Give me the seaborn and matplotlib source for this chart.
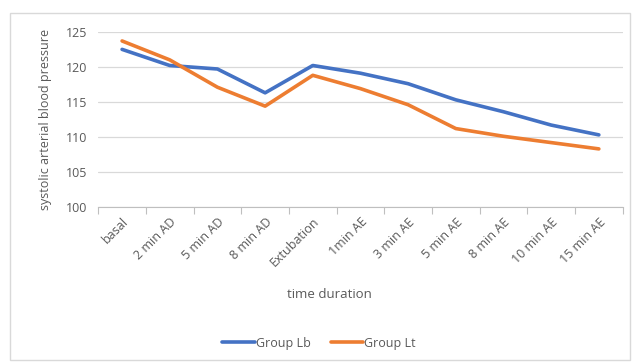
import pandas as pd
import seaborn as sns
import matplotlib.pyplot as plt
from matplotlib.patches import Rectangle

# data
times = ['basal', '2 min AD', '5 min AD', '8 min AD', 'Extubation', '1min AE',
         '3 min AE', '5 min AE', '8 min AE', '10 min AE', '15 min AE']
group_lb = [122.5, 120.2, 119.7, 116.3, 120.2, 119.1, 117.6, 115.3, 113.6, 111.7, 110.3]
group_lt = [123.7, 121.0, 117.1, 114.4, 118.8, 116.9, 114.6, 111.2, 110.1, 109.2, 108.3]
groups = ['Group Lb', 'Group Lt']
colors = ['#4472C4', '#ED7D31']

df = pd.DataFrame({
    'time': times * 2,
    'sbp': group_lb + group_lt,
    'group': [groups[0]] * len(times) + [groups[1]] * len(times),
})

sns.set_style('white')
plt.rcParams['font.family'] = ['Open Sans', 'DejaVu Sans']
txt = '#595959'

fig = plt.figure(figsize=(6.38, 3.62), dpi=100)
ax = fig.add_axes([0.154, 0.428, 0.822, 0.484])
fig.patches.append(Rectangle((0.016, 0.005), 0.972, 0.958, transform=fig.transFigure,
                             fill=False, edgecolor='#d9d9d9', linewidth=1))

x = list(range(len(times)))
df['x'] = df['time'].map(dict(zip(times, x)))
sns.lineplot(data=df, x='x', y='sbp', hue='group', palette=colors, linewidth=2.6,
             sort=False, ax=ax)

ax.set_xlim(-0.5, len(times) - 0.5)
ax.set_ylim(100, 125)
ax.set_yticks(range(100, 126, 5))
ax.set_xticks(x)
ax.set_xticklabels(times, rotation=45, ha='right', rotation_mode='anchor')
ax.set_xticks([i - 0.5 for i in range(len(times) + 1)], minor=True)
ax.tick_params(axis='x', which='major', length=0, pad=6, labelsize=9, colors=txt)
ax.tick_params(axis='x', which='minor', length=5, width=0.8, color='#bfbfbf', bottom=True)
ax.tick_params(axis='y', length=0, labelsize=9, colors=txt, pad=8)
ax.grid(axis='y', color='#d9d9d9', linewidth=0.9)
for s in ['top', 'right', 'left']:
    ax.spines[s].set_visible(False)
ax.spines['bottom'].set_color('#bfbfbf')

ax.set_ylabel('systolic arterial blood pressure', fontsize=9, color=txt, labelpad=10)
ax.set_xlabel('time duration', fontsize=9.5, color=txt)
ax.xaxis.set_label_coords(0.44, -0.46)

handles, labels = ax.get_legend_handles_labels()
ax.legend(handles, labels, loc='center', bbox_to_anchor=(0.5, 0.052),
          bbox_transform=fig.transFigure, ncol=2, frameon=False, fontsize=9,
          handlelength=2.6, handletextpad=0.1, columnspacing=1.6, labelcolor=txt)

plt.savefig('out.png', dpi=100)
